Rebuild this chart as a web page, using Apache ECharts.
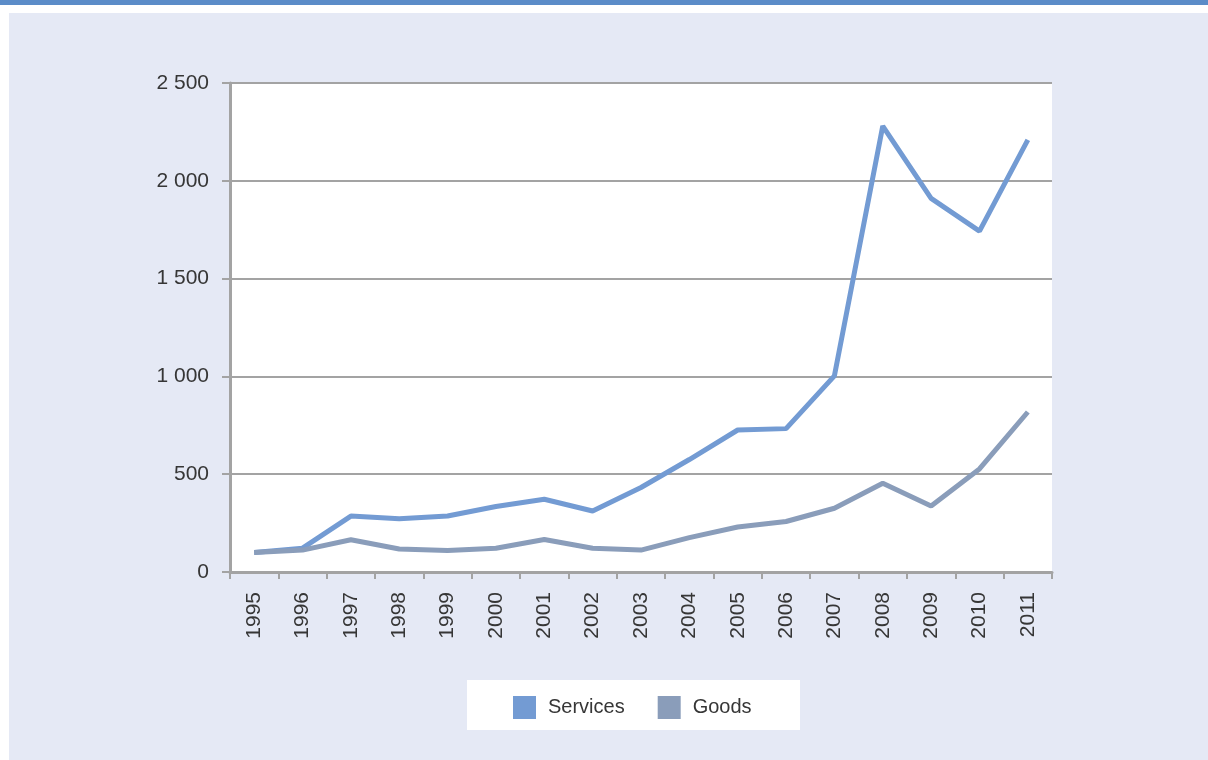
<!DOCTYPE html>
<html>
<head>
<meta charset="utf-8">
<script src="https://cdn.jsdelivr.net/npm/echarts@6/dist/echarts.min.js"></script>
<style>
  html, body { margin: 0; padding: 0; background: #ffffff; }
  #band { position: absolute; left: 0; top: 0; width: 1208px; height: 5px; background: #5b8cc8; }
  #panel { position: absolute; left: 9px; top: 13px; width: 1199px; height: 747px; background: #e5e9f5; }
  #main { position: absolute; left: 0; top: 0; width: 1208px; height: 760px; }
</style>
</head>
<body>
<div id="band"></div>
<div id="panel"></div>
<div id="main"></div>
<script>
// Years on the horizontal axis
const years = ['1995','1996','1997','1998','1999','2000','2001','2002','2003',
               '2004','2005','2006','2007','2008','2009','2010','2011'];
// Series values
const services = [100, 122, 286, 272, 286, 335, 372, 312, 432, 575, 726, 733, 1003, 2280, 1910, 1743, 2209];
const goods    = [100, 112, 165, 118, 110, 121, 166, 121, 112, 176, 230, 258, 326, 454, 337, 527, 818];
// Value axis range
const yMin = 0, yMax = 2500, yStep = 500;

const servicesColor = '#739bd3';
const goodsColor = '#8a9dba';
const axisGrey = '#a3a3a3';
const textColor = '#363636';
const font = '"Liberation Sans", Arial, sans-serif';

const chart = echarts.init(document.getElementById('main'), null, { renderer: 'canvas' });

function spaced(v) {
  return String(v).replace(/\B(?=(\d{3})+(?!\d))/g, ' ');
}

chart.setOption({
  backgroundColor: 'transparent',
  animation: false,
  grid: {
    left: 230, right: 156, top: 83, bottom: 188,
    show: true, backgroundColor: '#ffffff', borderWidth: 0
  },
  graphic: [{
    type: 'rect', left: 467, top: 680, z: -1,
    shape: { width: 333, height: 50 },
    style: { fill: '#ffffff' }
  }],
  legend: {
    left: 513, top: 696, padding: 0,
    icon: 'rect', itemWidth: 23, itemHeight: 23, itemGap: 33,
    textStyle: { fontFamily: font, fontSize: 20, color: textColor, padding: [0, 0, 0, 7] },
    data: [
      { name: 'Services', itemStyle: { color: servicesColor } },
      { name: 'Goods', itemStyle: { color: goodsColor } }
    ]
  },
  xAxis: {
    type: 'category',
    data: years,
    boundaryGap: true,
    axisLine: { lineStyle: { color: axisGrey, width: 3 } },
    axisTick: { show: true, length: 7, lineStyle: { color: axisGrey, width: 2 } },
    axisLabel: {
      rotate: 90, margin: 20, interval: 0,
      fontFamily: font, fontSize: 21, color: textColor
    },
    splitLine: { show: false }
  },
  yAxis: {
    type: 'value',
    min: yMin, max: yMax, interval: yStep,
    axisLine: { show: true, lineStyle: { color: axisGrey, width: 3 } },
    axisTick: { show: true, length: 8, lineStyle: { color: axisGrey, width: 2 } },
    axisLabel: {
      margin: 21, fontFamily: font, fontSize: 21, color: textColor,
      formatter: v => spaced(v)
    },
    splitLine: { show: true, lineStyle: { color: axisGrey, width: 2 } }
  },
  series: [
    {
      name: 'Services', type: 'line', data: services,
      showSymbol: false, symbol: 'none',
      lineStyle: { color: servicesColor, width: 5 },
      itemStyle: { color: servicesColor },
      z: 3
    },
    {
      name: 'Goods', type: 'line', data: goods,
      showSymbol: false, symbol: 'none',
      lineStyle: { color: goodsColor, width: 5 },
      itemStyle: { color: goodsColor },
      z: 4
    }
  ]
});
</script>
</body>
</html>
